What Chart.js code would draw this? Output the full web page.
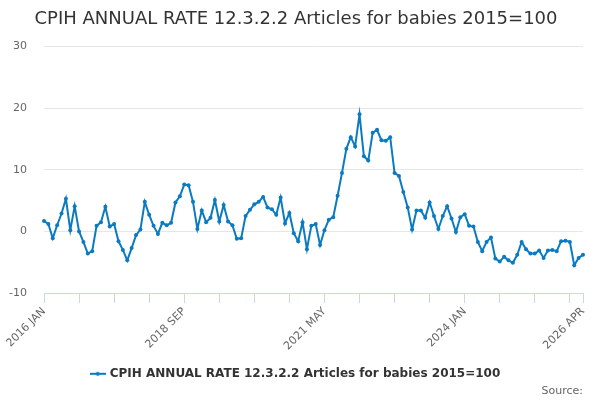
<!DOCTYPE html>
<html>
<head>
<meta charset="utf-8">
<script src="https://cdn.jsdelivr.net/npm/chart.js@4.4.1/dist/chart.umd.min.js"></script>
<style>
html,body{margin:0;padding:0;background:#fff;}
#wrap{width:600px;height:400px;position:relative;}
</style>
</head>
<body>
<div id="wrap"><canvas id="c"></canvas></div>
<script>
const titleText = "CPIH ANNUAL RATE 12.3.2.2 Articles for babies 2015=100";
const seriesName = "CPIH ANNUAL RATE 12.3.2.2 Articles for babies 2015=100";
const monthNames = ["JAN","FEB","MAR","APR","MAY","JUN","JUL","AUG","SEP","OCT","NOV","DEC"];
const startYear = 2016;
const endYear = 2026;
const endMonth = 3; // APR
const values2016 = [1.7, 1.2, -1.1, 1.0, 2.9, 5.3, 0.2, 4.1, 0.0, -1.7, -3.6, -3.2];
const values2017 = [0.9, 1.5, 4.0, 0.8, 1.2, -1.6, -3.0, -4.7, -2.7, -0.6, 0.3, 4.8];
const values2018 = [2.7, 0.9, -0.4, 1.4, 1.0, 1.4, 4.7, 5.7, 7.6, 7.5, 4.8, 0.4];
const values2019 = [3.4, 1.5, 2.2, 5.1, 1.6, 4.3, 1.6, 1.0, -1.2, -1.1, 2.5, 3.5];
const values2020 = [4.4, 4.8, 5.6, 3.9, 3.6, 2.7, 5.5, 1.3, 3.0, -0.3, -1.6, 1.5];
const values2021 = [-2.9, 0.9, 1.2, -2.2, 0.2, 1.9, 2.3, 5.8, 9.5, 13.4, 15.3, 13.8];
const values2022 = [19.0, 12.2, 11.5, 16.0, 16.5, 14.8, 14.7, 15.3, 9.5, 9.0, 6.4, 3.9];
const values2023 = [0.3, 3.4, 3.4, 2.2, 4.7, 2.5, 0.4, 2.5, 4.1, 2.1, -0.1, 2.3];
const values2024 = [2.8, 0.9, 0.8, -1.7, -3.2, -1.7, -1.0, -4.4, -4.9, -4.1, -4.7, -5.1];
const values2025 = [-3.8, -1.7, -2.9, -3.6, -3.6, -3.1, -4.3, -3.1, -3.0, -3.2, -1.6, -1.5];
const values2026 = [-1.7, -5.5, -4.3, -3.8];
const yTicks = [-10, 0, 10, 20, 30];
const labeledIndices = [0, 32, 64, 96, 123];
const tickStep = 8;

const labels = [];
for (let y = startYear; y <= endYear; y++) {
  const last = (y === endYear) ? endMonth : 11;
  for (let m = 0; m <= last; m++) labels.push(y + " " + monthNames[m]);
}
const values = [].concat(values2016, values2017, values2018, values2019, values2020,
  values2021, values2022, values2023, values2024, values2025, values2026);

const lineColor = "#0b7bc1";
const font = "'DejaVu Sans', sans-serif";

const sym = document.createElement('canvas');
sym.width = 16; sym.height = 8;
{
  const g = sym.getContext('2d');
  g.strokeStyle = lineColor; g.lineWidth = 2;
  g.beginPath(); g.moveTo(0, 4); g.lineTo(16, 4); g.stroke();
  g.fillStyle = lineColor; g.beginPath(); g.arc(8, 4, 2, 0, Math.PI * 2); g.fill();
}

const lastIdx = labels.length - 1;
function isTick(i) { return i % tickStep === 0 || i === lastIdx; }

new Chart(document.getElementById('c'), {
  type: 'line',
  data: {
    labels: labels,
    datasets: [{
      label: seriesName,
      data: values,
      borderColor: lineColor,
      backgroundColor: lineColor,
      borderWidth: 2,
      pointRadius: 2,
      pointHoverRadius: 2,
      pointBackgroundColor: lineColor,
      pointBorderWidth: 0,
      tension: 0
    }]
  },
  options: {
    responsive: true,
    maintainAspectRatio: false,
    animation: false,
    layout: { padding: { left: 9, right: 17, top: 9, bottom: 2 } },
    plugins: {
      title: {
        display: true,
        text: titleText,
        color: '#333333',
        font: { family: font, size: 18, weight: 'normal' },
        padding: { top: 0, bottom: 16 }
      },
      subtitle: {
        display: true,
        text: 'Source:',
        position: 'bottom',
        align: 'end',
        color: '#666666',
        font: { family: font, size: 11, weight: 'normal' },
        padding: { top: -5, bottom: 0 }
      },
      legend: {
        display: true,
        position: 'bottom',
        labels: {
          color: '#333333',
          font: { family: font, size: 12, weight: 'bold' },
          usePointStyle: true,
          padding: 3,
          generateLabels: (chart) => chart.data.datasets.map((ds, i) => ({
            text: ds.label, pointStyle: sym, fillStyle: lineColor, strokeStyle: lineColor,
            lineWidth: 0, datasetIndex: i, hidden: false, fontColor: '#333333'
          }))
        }
      },
      tooltip: { enabled: false }
    },
    scales: {
      x: {
        type: 'category',
        afterFit: (s) => { s.paddingLeft = 0; s.paddingRight = 0; s.height += 10; },
        grid: {
          drawOnChartArea: false,
          drawTicks: true,
          tickLength: 10,
          tickColor: '#ccd6eb'
        },
        border: { color: '#ccd6eb', width: 1 },
        ticks: {
          autoSkip: false,
          maxRotation: 45,
          minRotation: 45,
          padding: 2,
          color: '#666666',
          font: { family: font, size: 11 },
          callback: function(v, i) {
            if (labeledIndices.includes(i)) return labels[i];
            if (isTick(i)) return '';
            return null;
          }
        }
      },
      y: {
        min: yTicks[0],
        max: yTicks[yTicks.length - 1],
        afterBuildTicks: (axis) => { axis.ticks = yTicks.map(v => ({ value: v })); },
        afterFit: (s) => { s.width = 35; },
        grid: { color: '#e6e6e6', drawTicks: false, lineWidth: 1 },
        border: { display: false },
        ticks: {
          padding: 17,
          color: '#666666',
          font: { family: font, size: 11 }
        }
      }
    }
  }
});
</script>
</body>
</html>
